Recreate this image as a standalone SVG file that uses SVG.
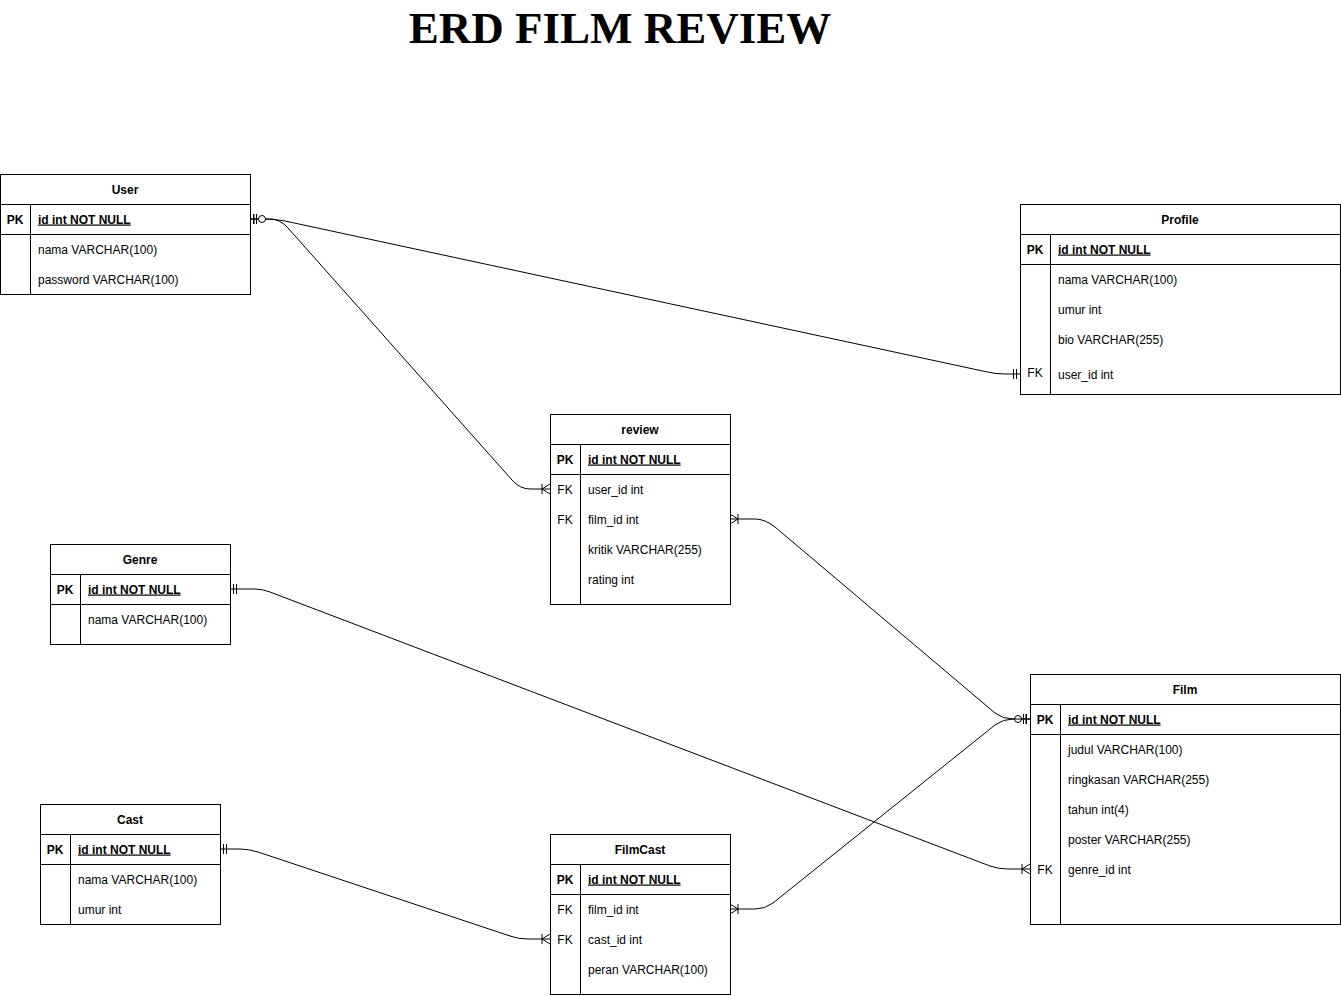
<svg xmlns="http://www.w3.org/2000/svg" width="1341" height="996" viewBox="0 0 1341 996">
<style>
.t{font-family:"Liberation Sans",Arial,Helvetica,sans-serif;font-size:12px;fill:#000}
.b{font-weight:bold}
.u{text-decoration:underline}
.c{text-anchor:middle}
.box{fill:#fff;stroke:#000;stroke-width:1}
.ln{stroke:#000;stroke-width:1;fill:none}
.edge{stroke:#000;stroke-width:1;fill:none}
.title{font-family:"Liberation Serif","Times New Roman",serif;font-size:45px;font-weight:bold;text-anchor:middle}
</style>
<defs>
<marker id="mandOne" markerUnits="userSpaceOnUse" orient="auto-start-reverse" refX="0" refY="0" markerWidth="24" markerHeight="20" viewBox="-20 -10 24 20" overflow="visible">
<path d="M-3.5,-5V5M-6.5,-5V5" stroke="#000" stroke-width="1" fill="none"/>
</marker>
<marker id="zeroOne" markerUnits="userSpaceOnUse" orient="auto-start-reverse" refX="0" refY="0" markerWidth="24" markerHeight="20" viewBox="-20 -10 24 20" overflow="visible">
<path d="M-4,-5V5" stroke="#000" stroke-width="1" fill="none"/>
<circle cx="-12" cy="0" r="3.5" fill="#fff" stroke="#000" stroke-width="1"/>
</marker>
<marker id="oneMany" markerUnits="userSpaceOnUse" orient="auto-start-reverse" refX="0" refY="0" markerWidth="24" markerHeight="20" viewBox="-20 -10 24 20" overflow="visible">
<path d="M0,-5L-8,0L0,5M-8,-5V5" stroke="#000" stroke-width="1" fill="none"/>
</marker>
</defs>
<rect x="0" y="0" width="1341" height="996" fill="#fff"/>
<text id="title" class="title" x="620" y="43">ERD FILM REVIEW</text>

<g id="connectors">
<path class="edge" d="M250,219 L265,219 Q275,219 285,221 L985,371.5 Q995,374 1005,374 L1020,374" marker-start="url(#mandOne)" marker-end="url(#mandOne)"/>
<path class="edge" d="M250,219 L270,219 Q280,219 288,228 L512,480 Q520,489 530,489 L550,489" marker-start="url(#zeroOne)" marker-end="url(#oneMany)"/>
<path class="edge" d="M730,519 L755,519 Q765,519 775,527 L995,713 Q1003,719 1013,719 L1030,719" marker-start="url(#oneMany)" marker-end="url(#zeroOne)"/>
<path class="edge" d="M230,589 L255,589 Q262,589 270,592 L990,866 Q998,869 1008,869 L1030,869" marker-start="url(#mandOne)" marker-end="url(#oneMany)"/>
<path class="edge" d="M220,849 L240,849 Q248,849 258,852 L510,936 Q518,939 528,939 L550,939" marker-start="url(#mandOne)" marker-end="url(#oneMany)"/>
<path class="edge" d="M730,909 L755,909 Q765,909 773,903 L995,725 Q1003,719 1013,719 L1030,719" marker-start="url(#oneMany)" marker-end="url(#mandOne)"/>
</g>

<g id="User">
<rect class="box" x="0.5" y="174.5" width="250" height="120"/>
<path class="ln" d="M0.5,204.5H250.5M0.5,234.5H250.5M30.5,204.5V294.5"/>
<text class="t b c" x="125" y="193.5">User</text>
<text class="t b c" x="15" y="223.5">PK</text>
<text class="t b u" x="38" y="223.5">id int NOT NULL</text>
<text class="t" x="38" y="253.5">nama VARCHAR(100)</text>
<text class="t" x="38" y="283.5">password VARCHAR(100)</text>
</g>

<g id="Profile">
<rect class="box" x="1020.5" y="204.5" width="320" height="190"/>
<path class="ln" d="M1020.5,234.5H1340.5M1020.5,264.5H1340.5M1050.5,234.5V394.5"/>
<text class="t b c" x="1180" y="223.5">Profile</text>
<text class="t b c" x="1035" y="253.5">PK</text>
<text class="t b u" x="1058" y="253.5">id int NOT NULL</text>
<text class="t" x="1058" y="283.5">nama VARCHAR(100)</text>
<text class="t" x="1058" y="313.5">umur int</text>
<text class="t" x="1058" y="343.5">bio VARCHAR(255)</text>
<text class="t c" x="1035" y="376.5">FK</text>
<text class="t" x="1058" y="378.5">user_id int</text>
</g>

<g id="review">
<rect class="box" x="550.5" y="414.5" width="180" height="190"/>
<path class="ln" d="M550.5,444.5H730.5M550.5,474.5H730.5M580.5,444.5V604.5"/>
<text class="t b c" x="640" y="433.5">review</text>
<text class="t b c" x="565" y="463.5">PK</text>
<text class="t b u" x="588" y="463.5">id int NOT NULL</text>
<text class="t c" x="565" y="493.5">FK</text>
<text class="t" x="588" y="493.5">user_id int</text>
<text class="t c" x="565" y="523.5">FK</text>
<text class="t" x="588" y="523.5">film_id int</text>
<text class="t" x="588" y="553.5">kritik VARCHAR(255)</text>
<text class="t" x="588" y="583.5">rating int</text>
</g>

<g id="Genre">
<rect class="box" x="50.5" y="544.5" width="180" height="100"/>
<path class="ln" d="M50.5,574.5H230.5M50.5,604.5H230.5M80.5,574.5V644.5"/>
<text class="t b c" x="140" y="563.5">Genre</text>
<text class="t b c" x="65" y="593.5">PK</text>
<text class="t b u" x="88" y="593.5">id int NOT NULL</text>
<text class="t" x="88" y="623.5">nama VARCHAR(100)</text>
</g>

<g id="Film">
<rect class="box" x="1030.5" y="674.5" width="310" height="250"/>
<path class="ln" d="M1030.5,704.5H1340.5M1030.5,734.5H1340.5M1060.5,704.5V924.5"/>
<text class="t b c" x="1185" y="693.5">Film</text>
<text class="t b c" x="1045" y="723.5">PK</text>
<text class="t b u" x="1068" y="723.5">id int NOT NULL</text>
<text class="t" x="1068" y="753.5">judul VARCHAR(100)</text>
<text class="t" x="1068" y="783.5">ringkasan VARCHAR(255)</text>
<text class="t" x="1068" y="813.5">tahun int(4)</text>
<text class="t" x="1068" y="843.5">poster VARCHAR(255)</text>
<text class="t c" x="1045" y="873.5">FK</text>
<text class="t" x="1068" y="873.5">genre_id int</text>
</g>

<g id="Cast">
<rect class="box" x="40.5" y="804.5" width="180" height="120"/>
<path class="ln" d="M40.5,834.5H220.5M40.5,864.5H220.5M70.5,834.5V924.5"/>
<text class="t b c" x="130" y="823.5">Cast</text>
<text class="t b c" x="55" y="853.5">PK</text>
<text class="t b u" x="78" y="853.5">id int NOT NULL</text>
<text class="t" x="78" y="883.5">nama VARCHAR(100)</text>
<text class="t" x="78" y="913.5">umur int</text>
</g>

<g id="FilmCast">
<rect class="box" x="550.5" y="834.5" width="180" height="160"/>
<path class="ln" d="M550.5,864.5H730.5M550.5,894.5H730.5M580.5,864.5V994.5"/>
<text class="t b c" x="640" y="853.5">FilmCast</text>
<text class="t b c" x="565" y="883.5">PK</text>
<text class="t b u" x="588" y="883.5">id int NOT NULL</text>
<text class="t c" x="565" y="913.5">FK</text>
<text class="t" x="588" y="913.5">film_id int</text>
<text class="t c" x="565" y="943.5">FK</text>
<text class="t" x="588" y="943.5">cast_id int</text>
<text class="t" x="588" y="973.5">peran VARCHAR(100)</text>
</g>
</svg>
